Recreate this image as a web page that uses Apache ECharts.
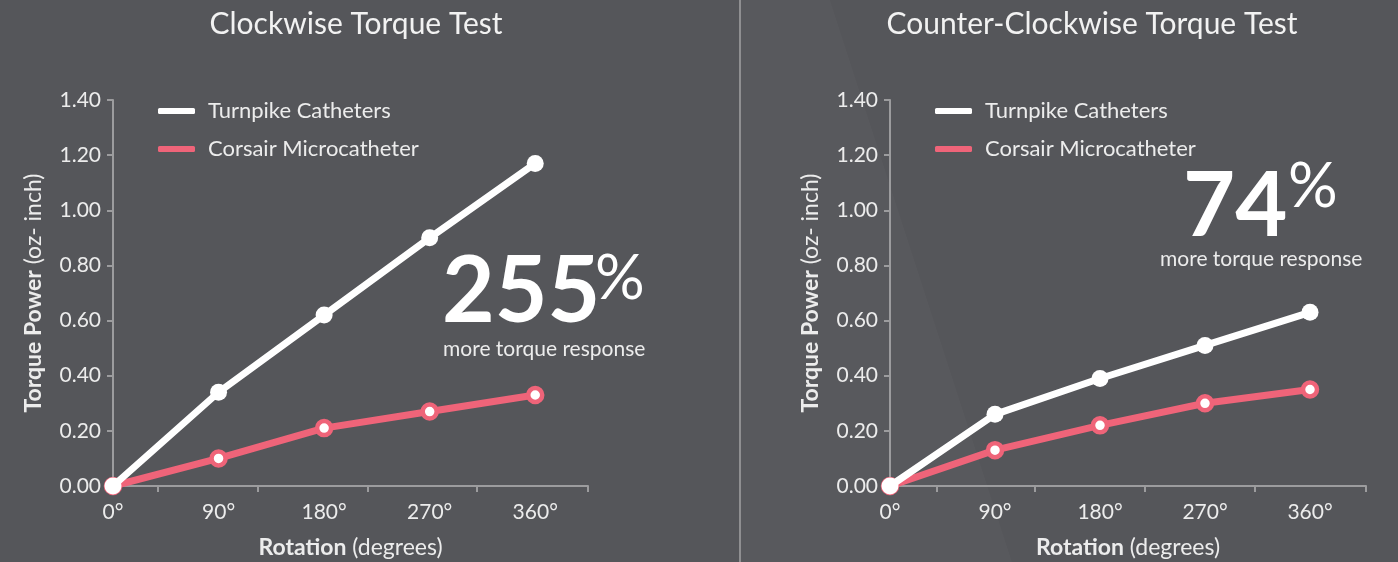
<!DOCTYPE html>
<html>
<head>
<meta charset="utf-8">
<script src="https://cdn.jsdelivr.net/npm/echarts@6/dist/echarts.min.js"></script>
<style>
  html, body { margin: 0; padding: 0; background: #55565a; }
  #chart { width: 1398px; height: 562px; }
</style>
</head>
<body>
<div id="chart"></div>
<script>
// rotation in degrees
const rotation = [0, 90, 180, 270, 360];
// torque power (oz-inch)
const cwTurnpike = [0, 0.34, 0.62, 0.90, 1.17];
const cwCorsair = [0, 0.10, 0.21, 0.27, 0.33];
const ccwTurnpike = [0, 0.26, 0.39, 0.51, 0.63];
const ccwCorsair = [0, 0.13, 0.22, 0.30, 0.35];
// x tick marks (they sit between the labels in the original)
const cwTicks = [38, 123, 217, 310, 405];
const ccwTicks = [40, 124, 218, 313, 408];
const titles = ['Clockwise Torque Test', 'Counter-Clockwise Torque Test'];
const cwGain = '255';
const ccwGain = '74';

const white = '#ffffff';
const pink = '#ef6479';
const axisGray = '#9c9c9e';
const textColor = '#ececec';
const font = 'Lato';

let chartDom = document.getElementById('chart');
let myChart = echarts.init(chartDom);

function pairs(values) {
  return values.map((v, i) => [rotation[i], v]);
}

function xAxisFor(idx, max, ticks) {
  return {
    type: 'value',
    gridIndex: idx,
    min: 0,
    max: max,
    axisLine: { show: true, lineStyle: { color: axisGray, width: 2 } },
    axisTick: { show: true, customValues: ticks, length: 6, lineStyle: { color: axisGray, width: 2 } },
    axisLabel: {
      customValues: rotation,
      formatter: (v) => v + '°',
      color: textColor, fontSize: 21, fontFamily: font, margin: 16
    },
    splitLine: { show: false },
    name: '{b|Rotation} (degrees)',
    nameLocation: 'middle',
    nameGap: 50,
    nameTextStyle: {
      color: textColor, fontSize: 23, fontFamily: font,
      rich: { b: { fontWeight: 'bold', fontSize: 23, fontFamily: font, color: textColor } }
    }
  };
}

function yAxisFor(idx) {
  return {
    type: 'value',
    gridIndex: idx,
    min: 0,
    max: 1.4,
    interval: 0.2,
    axisLine: { show: true, lineStyle: { color: axisGray, width: 2 } },
    axisTick: { show: true, length: 6, lineStyle: { color: axisGray, width: 2 } },
    axisLabel: {
      formatter: (v) => v.toFixed(2),
      color: textColor, fontSize: 21, fontFamily: font, margin: 12
    },
    splitLine: { show: false },
    name: '{b|Torque Power} (oz- inch)',
    nameLocation: 'middle',
    nameGap: 68,
    nameTextStyle: {
      color: textColor, fontSize: 23, fontFamily: font,
      rich: { b: { fontWeight: 'bold', fontSize: 23, fontFamily: font, color: textColor } }
    }
  };
}

function whiteSeries(idx, values) {
  return {
    name: 'Turnpike Catheters',
    type: 'line',
    xAxisIndex: idx, yAxisIndex: idx,
    data: pairs(values),
    symbol: 'circle',
    symbolSize: 17,
    lineStyle: { color: white, width: 7 },
    itemStyle: { color: white },
    z: 3
  };
}

function pinkSeries(idx, values) {
  return {
    name: 'Corsair Microcatheter',
    type: 'line',
    xAxisIndex: idx, yAxisIndex: idx,
    data: pairs(values),
    symbol: 'circle',
    symbolSize: 14,
    lineStyle: { color: pink, width: 7 },
    itemStyle: { color: white, borderColor: pink, borderWidth: 4.5 },
    z: 2
  };
}

function legendFor(left) {
  return {
    orient: 'vertical',
    left: left,
    top: 95,
    itemWidth: 37,
    itemHeight: 6,
    itemGap: 16,
    icon: 'roundRect',
    textStyle: { color: textColor, fontSize: 22, fontFamily: font, padding: [0, 0, 0, 8] },
    data: [
      { name: 'Turnpike Catheters', itemStyle: { color: white, borderWidth: 0 } },
      { name: 'Corsair Microcatheter', itemStyle: { color: pink, borderWidth: 0 } }
    ]
  };
}

let option = {
  backgroundColor: '#55565a',
  animation: false,
  title: [
    { text: titles[0], left: 351, top: 4, textAlign: 'center',
      textStyle: { color: '#f2f2f2', fontSize: 30, fontWeight: 'normal', fontFamily: font } },
    { text: titles[1], left: 1087, top: 4, textAlign: 'center',
      textStyle: { color: '#f2f2f2', fontSize: 30, fontWeight: 'normal', fontFamily: font } }
  ],
  legend: [legendFor(153), legendFor(930)],
  grid: [
    { left: 113, top: 100, width: 475, height: 386, outerBoundsMode: 'none' },
    { left: 890, top: 100, width: 476, height: 386, outerBoundsMode: 'none' }
  ],
  xAxis: [xAxisFor(0, 405, cwTicks), xAxisFor(1, 408, ccwTicks)],
  yAxis: [yAxisFor(0), yAxisFor(1)],
  series: [
    pinkSeries(0, cwCorsair),
    whiteSeries(0, cwTurnpike),
    pinkSeries(1, ccwCorsair),
    whiteSeries(1, ccwTurnpike)
  ],
  graphic: [
    // subtle diagonal shading on the right panel
    { type: 'polygon', silent: true, z: -10,
      shape: { points: [[741, 0], [830, 0], [1012, 562], [741, 562]] },
      style: { fill: 'rgba(255,255,255,0.02)' } },
    // panel divider
    { type: 'line', silent: true,
      shape: { x1: 740, y1: 0, x2: 740, y2: 562 },
      style: { stroke: '#a3a3a5', lineWidth: 1.5 } },
    { type: 'text', left: 442, top: 247,
      style: { text: cwGain, fill: white, font: 'bold 91px ' + font } },
    { type: 'text', left: 595, top: 248,
      style: { text: '%', fill: white, font: '62px ' + font } },
    { type: 'text', left: 443, top: 339,
      style: { text: 'more torque response', fill: textColor, font: '21px ' + font } },
    { type: 'text', left: 1183, top: 162,
      style: { text: ccwGain, fill: white, font: 'bold 90px ' + font } },
    { type: 'text', left: 1288, top: 156,
      style: { text: '%', fill: white, font: '62px ' + font } },
    { type: 'text', left: 1160, top: 249,
      style: { text: 'more torque response', fill: textColor, font: '21px ' + font } }
  ]
};

option && myChart.setOption(option);
</script>
</body>
</html>
